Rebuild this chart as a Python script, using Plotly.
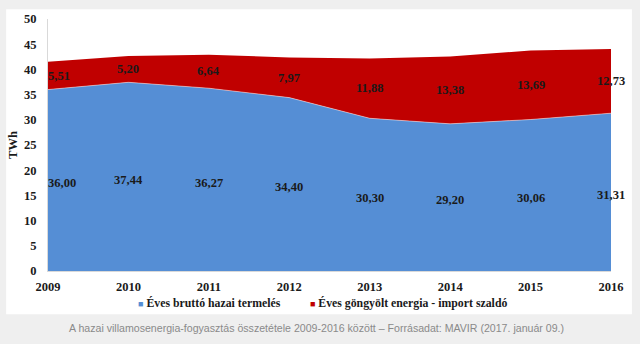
import plotly.graph_objects as go

# Hungarian electricity consumption, TWh
years = [2009, 2010, 2011, 2012, 2013, 2014, 2015, 2016]
domestic = [36.00, 37.44, 36.27, 34.40, 30.30, 29.20, 30.06, 31.31]
imports = [5.51, 5.20, 6.64, 7.97, 11.88, 13.38, 13.69, 12.73]
series_names = ["Éves bruttó hazai termelés", "Éves göngyölt energia - import szaldó"]
caption = "A hazai villamosenergia-fogyasztás összetétele 2009-2016 között – Forrásadat: MAVIR (2017. január 09.)"

BLUE = "#558ED5"
RED = "#C00000"
SERIF = "Liberation Serif"
INK = "#1a1a1a"
LBL = dict(family=SERIF, size=12.5, color=INK)
TICK = dict(family=SERIF, size=12.5, color=INK, weight="bold")


def fmt(v):
    return f"{v:.2f}".replace(".", ",")


fig = go.Figure()
fig.add_trace(go.Scatter(x=years, y=domestic, stackgroup="one", mode="lines",
                         line=dict(width=1, color="rgba(255,255,255,0.45)"),
                         fillcolor=BLUE, name=series_names[0], showlegend=False))
fig.add_trace(go.Scatter(x=years, y=imports, stackgroup="one", mode="lines",
                         line=dict(width=0, color=RED),
                         fillcolor=RED, name=series_names[1], showlegend=False))

annotations = []
for i, yr in enumerate(years):
    anchor = "left" if i == 0 else "center"
    xs = -2 if i == 0 else 0
    annotations.append(dict(x=yr, y=domestic[i] / 2, text="<b>" + fmt(domestic[i]) + "</b>",
                            showarrow=False, xanchor=anchor, xshift=xs, yshift=-3, font=LBL))
    annotations.append(dict(x=yr, y=domestic[i] + imports[i] / 2, text="<b>" + fmt(imports[i]) + "</b>",
                            showarrow=False, xanchor=anchor, xshift=xs, font=LBL))

# legend drawn as text with coloured squares
annotations.append(dict(
    xref="paper", yref="paper", x=(321 - 46) / 565, y=(271 - 304) / 256,
    xanchor="center", yanchor="middle", showarrow=False,
    text=(f"<span style='color:{BLUE};font-size:9px'>■</span> <b>{series_names[0]}</b>"
          f"          <span style='color:{RED};font-size:9px'>■</span> <b>{series_names[1]}</b>"),
    font=dict(family=SERIF, size=11.8, color=INK)))

annotations.append(dict(
    xref="paper", yref="paper", x=(315 - 46) / 565, y=(271 - 329) / 256,
    xanchor="center", yanchor="middle", showarrow=False, text=caption,
    font=dict(family="Liberation Sans", size=10.6, color="#8a8a8a")))

fig.update_layout(
    width=640, height=344,
    margin=dict(l=46, r=29, t=15, b=73),
    paper_bgcolor="#efefef", plot_bgcolor="rgba(0,0,0,0)",
    annotations=annotations,
    shapes=[dict(type="rect", xref="paper", yref="paper", layer="below",
                 x0=(4 - 46) / 565, x1=(632 - 46) / 565,
                 y0=(271 - 315) / 256, y1=(271 - 5) / 256,
                 fillcolor="white", line=dict(width=0))],
    xaxis=dict(range=[2009, 2016], tickvals=years, showgrid=False, zeroline=False,
               showline=True, linecolor="#d9d9d9", linewidth=1, ticks="",
               tickfont=TICK, ticklabelstandoff=4),
    yaxis=dict(range=[0, 50], dtick=5, showgrid=False, zeroline=False,
               showline=True, linecolor="#d9d9d9", linewidth=1, ticks="",
               tickfont=TICK, ticklabelstandoff=8,
               title=dict(text="<b>TWh</b>", standoff=3,
                          font=dict(family=SERIF, size=12.5, color=INK))),
    showlegend=False,
)

fig.write_html("out.html")
